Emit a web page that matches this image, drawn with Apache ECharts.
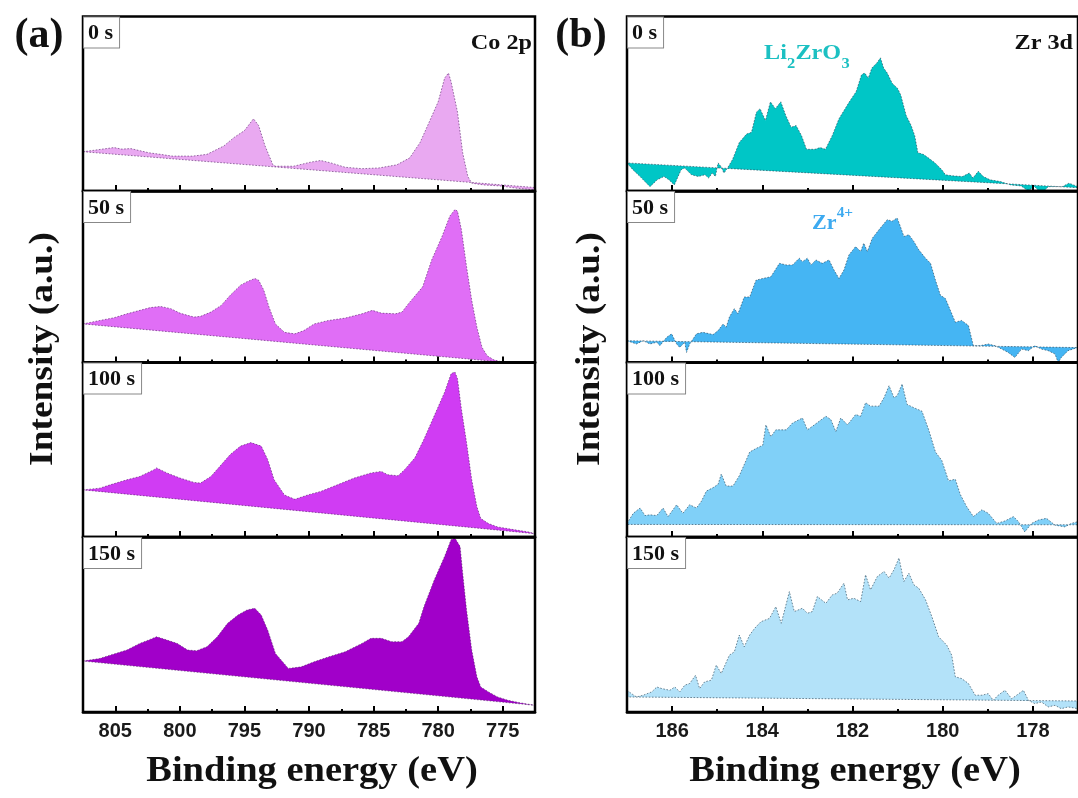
<!DOCTYPE html>
<html><head><meta charset="utf-8">
<script src="https://cdn.jsdelivr.net/npm/echarts@6/dist/echarts.min.js"></script>
<style>html,body{margin:0;padding:0;background:#fff}#c{width:1078px;height:798px}</style>
</head><body><div id="c"></div>
<script>
// ---------- DATA ----------
const coMajorTicks = [805, 800, 795, 790, 785, 780, 775];
const coMinorTicks = [802.5, 797.5, 792.5, 787.5, 782.5, 777.5];
const zrMajorTicks = [186, 184, 182, 180, 178];
const zrMinorTicks = [185, 183, 181, 179, 177];
const timeLabels = ['0 s', '50 s', '100 s', '150 s'];

// Co 2p spectra [binding energy, intensity]
const co_0s = [[807.5,22.5],[806.5,23.5],[805.1,24.9],[804.5,24.0],[803.8,24.3],[802.4,21.9],[801.5,21.0],[800.6,20.0],[799.0,20.0],[797.9,21.0],[796.6,25.8],[795.8,30.7],[795.0,34.6],[794.3,41.4],[793.9,37.5],[793.4,25.8],[792.8,15.1],[792.6,14.2],[791.2,14.2],[789.9,16.5],[789.1,17.5],[788.3,16.1],[787.2,13.6],[785.9,12.8],[784.6,13.2],[783.2,15.0],[782.2,19.0],[781.4,27.8],[780.7,39.4],[780.0,51.1],[779.5,64.7],[779.2,67.6],[779.0,62.7],[778.5,45.2],[778.1,21.9],[777.7,8.3],[777.4,4.5],[776.5,3.5],[775.2,2.9],[773.9,1.6],[772.5,0.6]];
const co_50s = [[807.5,22.5],[806.2,24.5],[805.1,26.1],[804.1,28.4],[803.3,30.0],[802.3,32.0],[801.5,32.7],[800.7,31.4],[800.0,28.8],[799.4,27.5],[798.9,26.5],[798.4,26.9],[797.6,29.4],[796.8,33.3],[796.1,39.2],[795.3,45.1],[794.8,47.1],[794.2,49.0],[793.9,48.0],[793.5,42.2],[793.1,32.4],[792.6,22.5],[791.9,17.6],[791.1,16.7],[790.4,18.6],[789.6,22.5],[788.5,24.5],[787.2,25.9],[785.9,28.4],[785.1,30.4],[784.4,28.8],[783.3,28.4],[782.8,29.4],[782.3,34.3],[781.2,44.1],[780.5,59.8],[779.7,73.5],[779.1,85.3],[778.7,89.2],[778.5,88.2],[778.2,77.5],[777.8,55.9],[777.4,36.3],[777.0,20.6],[776.6,8.8],[776.2,3.9],[775.7,1.6],[774.9,0.0],[774.2,-0.6],[772.9,-1.0],[772.5,-1.4]];
const co_100s = [[807.5,27.0],[806.2,28.0],[805.4,29.9],[804.1,32.8],[803.1,34.7],[802.0,38.6],[801.8,39.6],[801.0,36.7],[800.0,33.8],[798.9,31.3],[798.4,30.9],[797.6,34.7],[796.9,40.5],[796.1,47.3],[795.3,52.1],[794.5,54.1],[793.7,52.1],[793.2,44.4],[792.7,32.8],[791.9,24.1],[791.1,21.6],[790.1,24.1],[789.1,26.1],[787.8,29.9],[786.5,33.8],[785.2,36.7],[784.4,37.6],[783.9,35.7],[783.1,35.1],[782.6,38.6],[781.8,45.4],[781.1,56.0],[780.3,69.5],[779.5,83.0],[779.0,93.6],[778.7,94.6],[778.5,90.7],[778.2,73.4],[777.8,54.1],[777.4,32.8],[777.0,17.4],[776.7,10.6],[776.1,7.7],[775.4,5.8],[774.3,4.4],[773.0,2.9],[772.5,1.9]];
const co_150s = [[807.5,29.1],[806.2,30.6],[805.4,32.5],[804.1,35.4],[803.1,39.2],[802.3,41.5],[801.8,43.0],[801.0,41.1],[800.2,39.2],[799.4,35.4],[798.7,35.0],[797.9,37.3],[797.1,43.0],[796.3,50.7],[795.5,55.4],[794.8,58.3],[794.2,59.3],[793.7,55.4],[793.2,46.8],[792.6,33.5],[791.6,24.9],[790.6,25.8],[789.6,28.7],[788.5,31.5],[787.2,34.4],[785.9,39.2],[785.2,42.1],[784.4,42.1],[783.6,40.2],[782.8,40.2],[782.3,43.0],[781.5,50.7],[781.1,60.2],[780.3,75.5],[779.5,88.9],[779.0,98.5],[778.7,99.4],[778.3,94.6],[778.1,79.3],[777.8,58.3],[777.4,35.4],[777.0,20.1],[776.7,14.3],[776.1,11.5],[775.4,8.6],[774.6,6.7],[773.6,5.2],[772.5,3.8]];
// linear backgrounds (start, end)
const co_0s_bg = [[807.5,22.5],[772.5,2.0]];
const co_50s_bg = [[807.5,22.5],[772.5,-1.5]];
const co_100s_bg = [[807.5,27.0],[772.5,1.9]];
const co_150s_bg = [[807.5,29.1],[772.5,3.8]];

// Zr 3d spectra
const zr_0s = [[187.0,16.1],[186.87,12.2],[186.71,8.3],[186.64,6.4],[186.49,2.5],[186.33,6.4],[186.18,8.3],[186.07,6.4],[185.95,3.5],[185.80,12.2],[185.72,13.2],[185.57,9.3],[185.42,8.3],[185.27,9.3],[185.19,7.4],[185.11,10.3],[185.04,8.3],[184.98,16.1],[184.92,14.2],[184.85,10.3],[184.77,13.2],[184.66,18.1],[184.51,27.8],[184.35,32.6],[184.24,33.6],[184.13,45.2],[184.05,47.2],[183.93,40.4],[183.82,51.1],[183.71,47.2],[183.59,51.1],[183.48,43.3],[183.36,36.5],[183.25,37.5],[183.13,31.7],[183.02,23.9],[182.94,23.9],[182.83,23.9],[182.72,24.9],[182.60,23.9],[182.45,31.7],[182.30,41.4],[182.07,51.1],[181.92,56.9],[181.80,66.6],[181.73,67.6],[181.65,64.7],[181.57,70.5],[181.46,73.4],[181.38,76.3],[181.31,70.5],[181.23,67.6],[181.12,61.7],[181.00,58.8],[180.93,55.0],[180.81,43.3],[180.70,37.5],[180.62,31.7],[180.55,21.9],[180.43,21.0],[180.32,19.0],[180.17,16.1],[180.02,12.2],[179.94,9.3],[179.79,8.7],[179.56,8.3],[179.41,10.3],[179.33,7.4],[179.21,11.3],[179.10,8.3],[178.95,6.4],[178.72,5.4],[178.49,3.5],[178.26,2.9],[178.11,0.2],[177.96,2.5],[177.81,-1.4],[177.66,2.5],[177.50,2.5],[177.35,2.5],[177.20,4.5],[177.0,2.5]];
const zr_50s = [[187.0,12.7],[186.79,10.8],[186.64,12.7],[186.49,10.8],[186.34,11.8],[186.27,9.8],[186.12,14.7],[186.01,16.7],[185.90,10.8],[185.83,8.8],[185.72,11.8],[185.68,5.9],[185.61,10.8],[185.46,16.7],[185.32,17.6],[185.09,16.3],[184.98,18.6],[184.87,22.5],[184.80,20.6],[184.73,26.5],[184.62,31.4],[184.54,28.4],[184.40,38.2],[184.28,38.2],[184.14,48.0],[183.99,49.0],[183.81,50.0],[183.62,57.8],[183.47,56.9],[183.33,56.9],[183.18,60.8],[183.11,58.8],[183.00,60.8],[182.92,56.9],[182.81,59.8],[182.67,57.8],[182.52,59.8],[182.41,53.9],[182.30,49.0],[182.19,53.9],[182.08,62.7],[181.93,67.6],[181.82,64.7],[181.75,69.6],[181.67,64.7],[181.56,72.5],[181.41,77.5],[181.23,83.3],[181.12,82.4],[181.01,84.3],[180.94,79.4],[180.86,73.5],[180.75,74.5],[180.64,70.6],[180.53,65.7],[180.38,60.8],[180.27,57.8],[180.16,48.0],[180.05,39.2],[179.94,37.3],[179.83,30.4],[179.72,23.5],[179.58,24.5],[179.43,21.6],[179.32,9.8],[179.17,9.8],[178.99,10.8],[178.84,9.8],[178.69,7.8],[178.55,5.9],[178.40,2.9],[178.25,7.8],[178.10,6.9],[177.96,9.8],[177.81,7.8],[177.66,6.9],[177.51,4.9],[177.44,0.0],[177.37,2.9],[177.22,6.9],[177.0,8.8]];
const zr_100s = [[187.0,7.8],[186.86,13.6],[186.71,16.6],[186.60,12.3],[186.49,12.7],[186.34,12.3],[186.20,16.6],[186.09,11.7],[185.90,18.5],[185.76,13.6],[185.61,18.5],[185.46,16.6],[185.35,20.5],[185.24,26.3],[185.09,28.3],[184.98,30.2],[184.91,36.1],[184.80,29.2],[184.65,29.2],[184.51,35.1],[184.36,43.9],[184.28,48.7],[184.14,50.7],[183.99,52.6],[183.92,64.3],[183.81,57.5],[183.70,61.4],[183.47,61.4],[183.33,65.3],[183.11,68.2],[183.00,61.4],[182.89,63.4],[182.74,66.3],[182.59,69.2],[182.48,67.3],[182.37,60.4],[182.26,68.2],[182.11,64.3],[181.93,70.2],[181.82,69.2],[181.71,77.0],[181.60,75.0],[181.41,75.0],[181.30,79.9],[181.19,86.7],[181.08,79.9],[181.01,80.9],[180.90,87.7],[180.79,76.0],[180.64,74.1],[180.46,72.1],[180.31,61.4],[180.16,48.7],[180.02,43.9],[179.87,32.2],[179.72,33.1],[179.61,24.4],[179.47,17.5],[179.32,11.7],[179.13,15.6],[178.99,13.6],[178.80,7.8],[178.62,9.2],[178.43,11.7],[178.32,8.8],[178.18,2.9],[178.03,7.8],[177.88,9.7],[177.70,10.7],[177.51,6.8],[177.29,5.8],[177.15,7.8],[177.0,8.8]];
const zr_150s = [[187.0,12.4],[186.90,10.5],[186.79,8.6],[186.64,9.6],[186.45,11.5],[186.34,14.3],[186.23,13.4],[186.05,12.4],[185.94,14.3],[185.83,11.5],[185.72,15.3],[185.61,16.3],[185.48,21.0],[185.39,13.4],[185.28,17.2],[185.13,18.2],[185.02,26.8],[184.91,22.0],[184.73,32.5],[184.62,34.4],[184.51,44.0],[184.40,37.3],[184.28,44.0],[184.17,47.8],[184.03,51.6],[183.84,53.5],[183.70,60.2],[183.58,50.7],[183.40,68.8],[183.29,57.4],[183.11,59.3],[183.00,56.4],[182.89,57.4],[182.78,66.0],[182.59,62.1],[182.45,66.9],[182.34,67.9],[182.19,73.6],[182.11,64.1],[181.97,65.0],[181.82,63.1],[181.71,78.4],[181.60,69.8],[181.45,77.4],[181.30,80.3],[181.19,76.5],[181.08,81.3],[180.97,88.0],[180.86,74.6],[180.75,79.3],[180.64,72.7],[180.53,70.7],[180.38,64.1],[180.24,54.5],[180.09,43.0],[179.91,38.2],[179.80,32.5],[179.72,20.1],[179.58,19.1],[179.43,16.3],[179.28,9.6],[179.13,9.6],[178.99,10.5],[178.88,6.7],[178.77,9.6],[178.62,12.4],[178.47,7.6],[178.36,9.6],[178.21,12.4],[178.10,6.7],[177.96,4.8],[177.81,5.7],[177.66,2.9],[177.51,3.8],[177.37,1.9],[177.22,2.9],[177.0,1.9]];
const zr_0s_bg = [[187,16.1],[177,1.9]];
const zr_50s_bg = [[187,12.7],[177,8.7]];
const zr_100s_bg = [[187,7.2],[177,7.0]];
const zr_150s_bg = [[187,8.6],[177,6.3]];

// ---------- STYLE ----------
const coFill = ['#E9A9F1', '#E06EF6', '#D03CF3', '#A100C9'];
const zrFill = ['#00C6C6', '#45B5F3', '#80D0F8', '#B3E2F9'];
const coStroke = 'rgba(70,20,90,0.55)';
const zrStroke = 'rgba(30,60,80,0.6)';
const rowTops = [16.5, 191, 362.5, 537];
const rowHeights = [174.5, 171.5, 174.5, 175];
const serif = '"Liberation Serif", "Times New Roman", serif';
const SX = 1.1; // horizontal stretch of the original figure's text

const panels = [
  {left: 83, width: 452, min: 772.5, max: 807.5, major: coMajorTicks, minor: coMinorTicks,
   spectra: [co_0s, co_50s, co_100s, co_150s], bgs: [co_0s_bg, co_50s_bg, co_100s_bg, co_150s_bg],
   fills: coFill, stroke: coStroke},
  {left: 627, width: 453, min: 177, max: 187, major: zrMajorTicks, minor: zrMinorTicks,
   spectra: [zr_0s, zr_50s, zr_100s, zr_150s], bgs: [zr_0s_bg, zr_50s_bg, zr_100s_bg, zr_150s_bg],
   fills: zrFill, stroke: zrStroke}
];

function makeRender(pts, bg, fill, stroke) {
  return function (params, api) {
    if (params.dataIndex !== 0) return null;
    const poly = pts.map(p => api.coord(p));
    poly.push(api.coord(bg[1]));
    poly.push(api.coord(bg[0]));
    return {type: 'polygon', shape: {points: poly},
      style: {fill: fill, stroke: stroke, lineWidth: 1, lineDash: [1.6, 1.6]}};
  };
}

const grids = [], xAxes = [], yAxes = [], series = [], graphics = [];
panels.forEach((p) => {
  for (let r = 0; r < 4; r++) {
    const gi = grids.length;
    grids.push({left: p.left, top: rowTops[r], width: p.width, height: rowHeights[r],
      show: true, borderColor: '#000', borderWidth: 2.5, z: 5, containLabel: false});
    const isBottom = r === 3;
    xAxes.push({gridIndex: gi, type: 'value', position: 'bottom', inverse: true, min: p.min, max: p.max, z: 6,
      axisLine: {show: true, onZero: false, lineStyle: {color: '#000', width: 2.5}},
      axisTick: {show: true, inside: true, length: 6, customValues: p.major, lineStyle: {color: '#000', width: 2}},
      axisLabel: {show: isBottom, customValues: p.major, margin: 9, color: '#1a1a1a',
        fontFamily: '"Liberation Sans", Arial, sans-serif', fontWeight: 'bold', fontSize: 20},
      splitLine: {show: false}});
    const majorIdx = xAxes.length - 1;
    xAxes.push({gridIndex: gi, type: 'value', position: 'bottom', inverse: true, min: p.min, max: p.max, z: 6,
      axisLine: {show: false},
      axisTick: {show: true, inside: true, length: 3, customValues: p.minor, lineStyle: {color: '#000', width: 2}},
      axisLabel: {show: false}, splitLine: {show: false}});
    yAxes.push({gridIndex: gi, type: 'value', min: 0, max: 100, show: false});
    series.push({type: 'custom', xAxisIndex: majorIdx, yAxisIndex: gi, clip: true, silent: true, z: 2,
      data: p.spectra[r], renderItem: makeRender(p.spectra[r], p.bgs[r], p.fills[r], p.stroke)});
    graphics.push({type: 'text', left: p.left, top: rowTops[r], z: 100,
      style: {text: timeLabels[r], font: 'bold 22px ' + serif, fill: '#111',
        backgroundColor: '#fff', borderColor: '#888', borderWidth: 1, padding: [5, 6, 3, 4]}});
  }
});

function txt(x, y, text, size, align, extra) {
  return Object.assign({type: 'text', x: x, y: y, z: 100, scaleX: SX,
    style: {text: text, font: 'bold ' + size + 'px ' + serif, fill: '#111', align: align, verticalAlign: 'middle'}}, extra || {});
}
function piece(x, y, text, size, color) {
  return {type: 'text', x: x, y: y, z: 100,
    style: {text: text, font: 'bold ' + size + 'px ' + serif, fill: color, align: 'left', verticalAlign: 'middle'}};
}
const liColor = '#1CC0C2', zrColor = '#3DAAF0';

graphics.push(
  txt(39, 36, '(a)', 42, 'center', {scaleX: 1}),
  txt(581, 36, '(b)', 42, 'center', {scaleX: 1}),
  txt(43, 349, 'Intensity (a.u.)', 34, 'center', {rotation: Math.PI / 2}),
  txt(590, 349, 'Intensity (a.u.)', 34, 'center', {rotation: Math.PI / 2}),
  txt(312, 772, 'Binding energy (eV)', 35, 'center'),
  txt(855, 772, 'Binding energy (eV)', 35, 'center'),
  txt(532, 43, 'Co 2p', 22, 'right'),
  txt(1073, 43, 'Zr 3d', 22, 'right'),
  {type: 'group', x: 764, y: 0, scaleX: SX, z: 100, children: [
    piece(0, 53.5, 'Li', 22, liColor),
    piece(20.8, 64, '2', 15, liColor),
    piece(28.6, 53.5, 'ZrO', 22, liColor),
    piece(70.4, 64, '3', 15, liColor)
  ]},
  {type: 'group', x: 812, y: 0, scaleX: SX, z: 100, children: [
    piece(0, 224.3, 'Zr', 20, zrColor),
    piece(22.4, 213.8, '4+', 14, zrColor)
  ]}
);

const chart = echarts.init(document.getElementById('c'), null, {renderer: 'canvas'});
chart.setOption({
  animation: false,
  backgroundColor: '#fff',
  grid: grids, xAxis: xAxes, yAxis: yAxes, series: series, graphic: graphics
});
</script></body></html>
